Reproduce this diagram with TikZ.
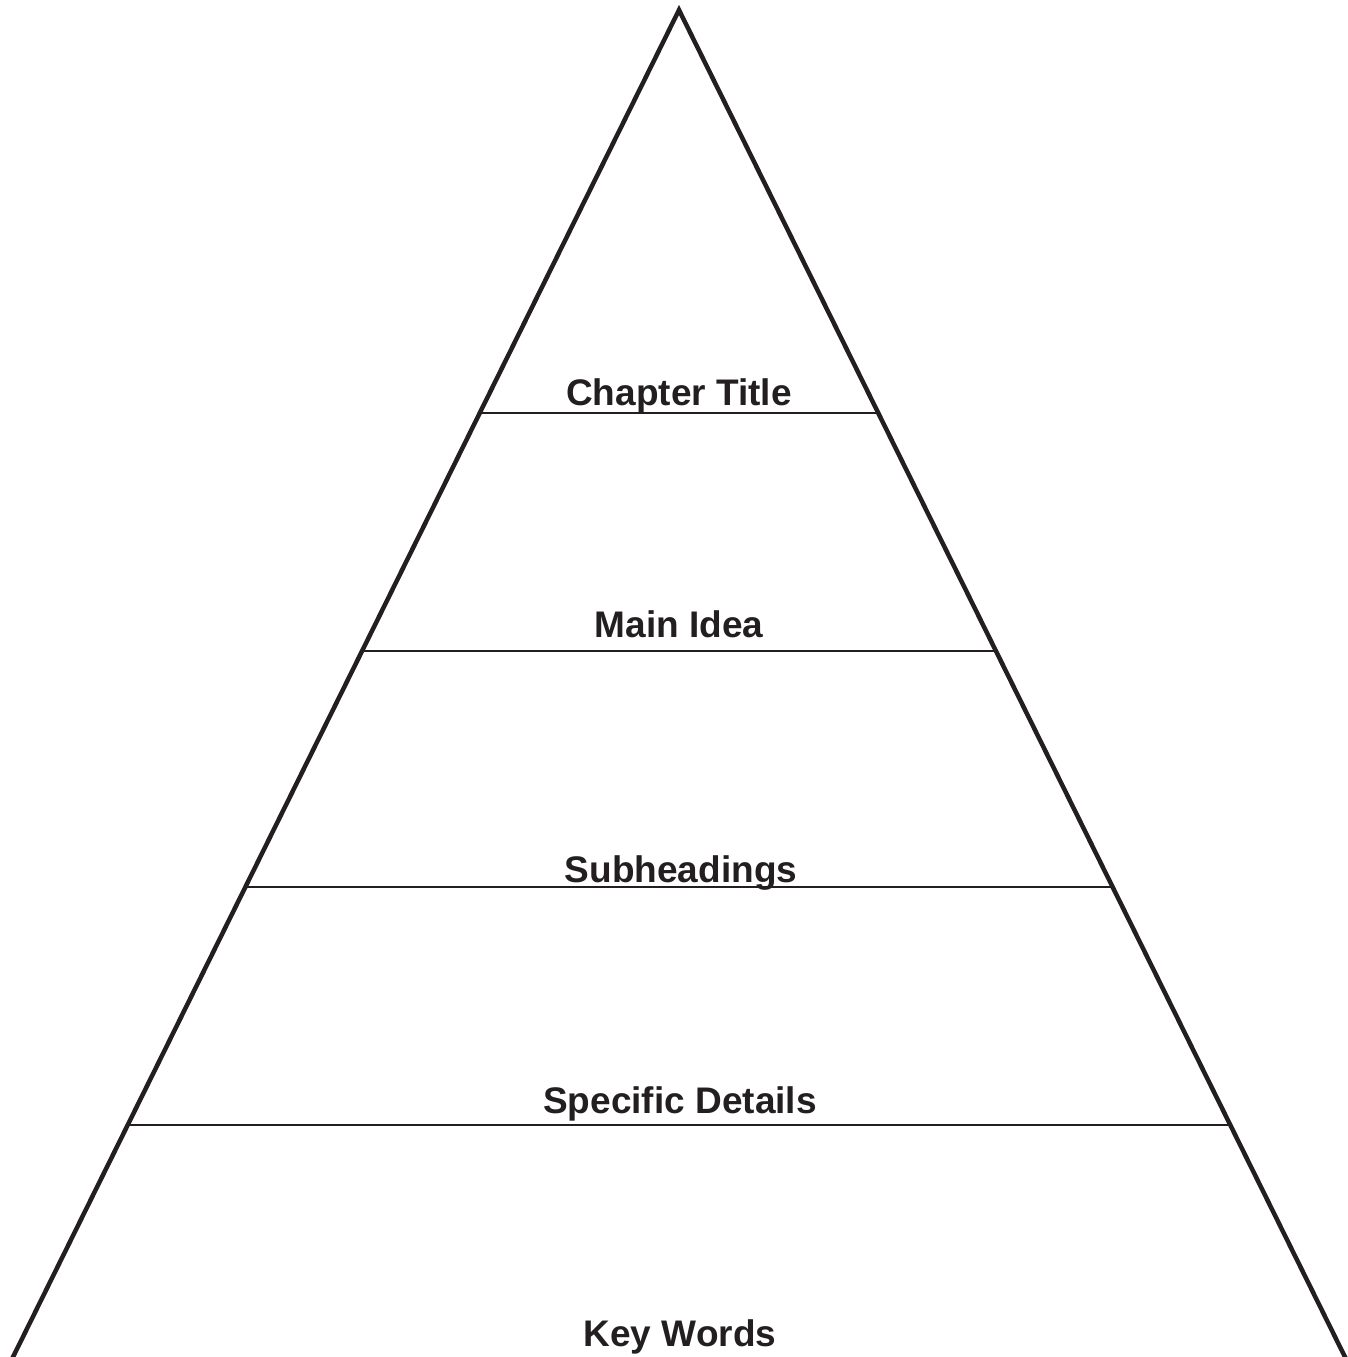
\documentclass[tikz,border=0pt]{standalone}
\usepackage{fontspec}
\setmainfont{Liberation Sans}
\usetikzlibrary{calc}
\definecolor{ink}{HTML}{231F20}
\begin{document}
\begin{tikzpicture}[x=1pt,y=-1pt,
  edge/.style={draw=ink,line width=4.5pt,line join=miter},
  tier/.style={draw=ink,line width=2.5pt},
  label/.style={anchor=base,text=ink,font=\fontsize{37}{40}\selectfont\bfseries,inner sep=0pt}]
  \useasboundingbox (0,0) rectangle (1348,1357);
  \fill[white] (0,0) rectangle (1348,1357);
  % outline of the pyramid
  \coordinate (apex) at (679,10);
  \coordinate (bl) at (13,1357);
  \coordinate (br) at (1345,1357);
  \begin{scope}
    \clip (0,0) rectangle (1348,1357);
    \draw[edge] ($(apex)!1.03!(bl)$) -- (apex) -- ($(apex)!1.03!(br)$);
  \end{scope}
  % tier boundaries
  \foreach \y/\n in {413/a,651/b,887/c,1125/d}{
    \coordinate (l\n) at ($(apex)!{(\y-10)/1347}!(bl)$);
    \coordinate (r\n) at ($(apex)!{(\y-10)/1347}!(br)$);
    \draw[tier] (l\n) -- (r\n);
  }
  \node[label] (t1) at (679,405) {Chapter Title};
  \node[label] (t2) at (679,637) {Main Idea};
  \node[label] (t3) at (681,882) {Subheadings};
  \node[label] (t4) at (680,1113) {Specific Details};
  \node[label] (t5) at (680,1346) {Key Words};
\end{tikzpicture}
\end{document}
